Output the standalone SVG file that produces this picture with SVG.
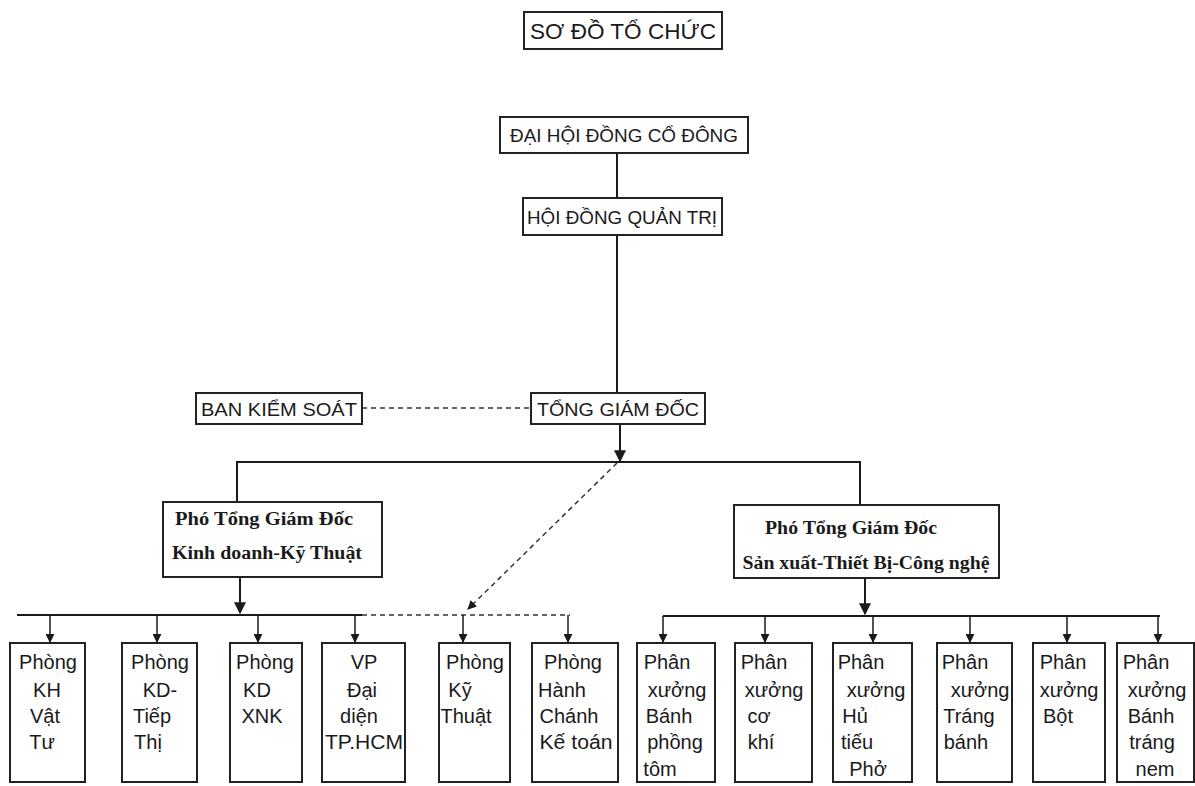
<svg xmlns="http://www.w3.org/2000/svg" width="1195" height="786" viewBox="0 0 1195 786">
<style>
.bx{fill:#fff;stroke:#222;stroke-width:2}
.t{font-family:"Liberation Sans",Arial,sans-serif;fill:#1a1a1a;text-anchor:middle}
.top{font-size:19px}
.s{font-family:"Liberation Serif","Times New Roman",serif;font-weight:bold;font-size:18.5px;fill:#1a1a1a;text-anchor:middle}
.b{font-size:20px}
.ln{stroke:#1a1a1a;stroke-width:2;fill:none}
.dl{stroke:#333;stroke-width:1.5;fill:none;stroke-dasharray:5 4}
</style>
<defs>
<marker id="ar" viewBox="0 0 10 10" refX="9" refY="5" markerWidth="6" markerHeight="6" orient="auto">
<path d="M0,0 L10,5 L0,10 z" fill="#1a1a1a"/>
</marker>
</defs>
<rect width="1195" height="786" fill="#fff"/>
<g id="title">
<rect class="bx" x="524" y="12" width="198" height="37" stroke-width="1.5"/>
<text class="t" x="623" y="39" font-size="22" textLength="186" lengthAdjust="spacingAndGlyphs">SƠ ĐỒ TỔ CHỨC</text>
</g>
<g id="connectors">
<line class="ln" x1="617" y1="153" x2="617" y2="198"/>
<line class="ln" x1="617" y1="235" x2="617" y2="393"/>
<line class="dl" x1="362" y1="408" x2="530" y2="408"/>
<line class="ln" x1="620" y1="423" x2="620" y2="461" marker-end="url(#ar)"/>
<line class="ln" x1="236" y1="462" x2="861" y2="462"/>
<line class="ln" x1="237" y1="462" x2="237" y2="502"/>
<line class="ln" x1="860" y1="462" x2="860" y2="505"/>
<line class="dl" x1="617" y1="463" x2="468" y2="609" marker-end="url(#ar)"/>
<line class="ln" x1="240" y1="577" x2="240" y2="613" marker-end="url(#ar)"/>
<line class="ln" x1="865" y1="578" x2="865" y2="614" marker-end="url(#ar)"/>
<line class="ln" x1="17" y1="615" x2="362" y2="615" stroke-width="1.5"/>
<line class="dl" x1="362" y1="615" x2="570" y2="615"/>
<line class="ln" x1="663" y1="616" x2="1160" y2="616" stroke-width="1.5"/>
<g stroke="#1a1a1a" stroke-width="1.5" marker-end="url(#ar)">
<line x1="50" y1="615" x2="50" y2="642"/>
<line x1="157" y1="615" x2="157" y2="642"/>
<line x1="258" y1="615" x2="258" y2="642"/>
<line x1="355" y1="615" x2="355" y2="642"/>
<line x1="463" y1="615" x2="463" y2="642"/>
<line x1="568" y1="615" x2="568" y2="642"/>
<line x1="663" y1="616" x2="663" y2="642"/>
<line x1="765" y1="616" x2="765" y2="642"/>
<line x1="873" y1="616" x2="873" y2="642"/>
<line x1="970" y1="616" x2="970" y2="642"/>
<line x1="1067" y1="616" x2="1067" y2="642"/>
<line x1="1158" y1="616" x2="1158" y2="642"/>
</g>
</g>
<g id="dhcd">
<rect class="bx" x="500" y="117" width="248" height="36" stroke-width="1.5"/>
<text class="t top" x="624" y="142" textLength="228" lengthAdjust="spacingAndGlyphs">ĐẠI HỘI ĐỒNG CỔ ĐÔNG</text>
</g>
<g id="hdqt">
<rect class="bx" x="523" y="198" width="199" height="37" stroke-width="1.5"/>
<text class="t top" x="622" y="224" textLength="190" lengthAdjust="spacingAndGlyphs">HỘI ĐỒNG QUẢN TRỊ</text>
</g>
<g id="bks">
<rect class="bx" x="196" y="393" width="166" height="31" stroke-width="1.5"/>
<text class="t top" x="279" y="416" textLength="156" lengthAdjust="spacingAndGlyphs">BAN KIỂM SOÁT</text>
</g>
<g id="tgd">
<rect class="bx" x="531" y="393" width="174" height="31" stroke-width="1.5"/>
<text class="t top" x="618" y="416" textLength="162" lengthAdjust="spacingAndGlyphs">TỔNG GIÁM ĐỐC</text>
</g>
<g id="ptgd-kd">
<rect class="bx" x="163" y="502" width="219" height="75"/>
<text class="s" x="264" y="525" textLength="178" lengthAdjust="spacingAndGlyphs">Phó Tổng Giám Đốc</text>
<text class="s" x="267" y="559" textLength="190" lengthAdjust="spacingAndGlyphs">Kinh doanh-Kỹ Thuật</text>
</g>
<g id="ptgd-sx">
<rect class="bx" x="734" y="505" width="265" height="73"/>
<text class="s" x="851" y="534" textLength="172" lengthAdjust="spacingAndGlyphs">Phó Tổng Giám Đốc</text>
<text class="s" x="866" y="569" textLength="247" lengthAdjust="spacingAndGlyphs">Sản xuất-Thiết Bị-Công nghệ</text>
</g>
<g id="p1"><rect class="bx" x="10" y="643" width="75" height="139"/>
<text class="t b" x="48" y="669">Phòng</text><text class="t b" x="47" y="697">KH</text><text class="t b" x="45" y="723">Vật</text><text class="t b" x="42" y="749">Tư</text></g>
<g id="p2"><rect class="bx" x="122" y="643" width="75" height="139"/>
<text class="t b" x="160" y="669">Phòng</text><text class="t b" x="160" y="697">KD-</text><text class="t b" x="152" y="723">Tiếp</text><text class="t b" x="148" y="749">Thị</text></g>
<g id="p3"><rect class="bx" x="230" y="643" width="72" height="139"/>
<text class="t b" x="265" y="669">Phòng</text><text class="t b" x="257" y="697">KD</text><text class="t b" x="262" y="723">XNK</text></g>
<g id="p4"><rect class="bx" x="322" y="643" width="83" height="139"/>
<text class="t b" x="364" y="669">VP</text><text class="t b" x="362" y="697">Đại</text><text class="t b" x="359" y="723">diện</text><text class="t b" x="364" y="749" textLength="78" lengthAdjust="spacingAndGlyphs">TP.HCM</text></g>
<g id="p5"><rect class="bx" x="439" y="643" width="71" height="139"/>
<text class="t b" x="475" y="669">Phòng</text><text class="t b" x="460" y="697">Kỹ</text><text class="t b" x="466" y="723">Thuật</text></g>
<g id="p6"><rect class="bx" x="532" y="643" width="86" height="139"/>
<text class="t b" x="573" y="669">Phòng</text><text class="t b" x="562" y="697">Hành</text><text class="t b" x="569" y="723">Chánh</text><text class="t b" x="576" y="749" textLength="73" lengthAdjust="spacingAndGlyphs">Kế toán</text></g>
<g id="px1"><rect class="bx" x="637" y="643" width="78" height="139"/>
<text class="t b" x="667" y="669">Phân</text><text class="t b" x="677" y="697">xưởng</text><text class="t b" x="669" y="723">Bánh</text><text class="t b" x="675" y="749">phồng</text><text class="t b" x="660" y="776">tôm</text></g>
<g id="px2"><rect class="bx" x="735" y="643" width="77" height="139"/>
<text class="t b" x="764" y="669">Phân</text><text class="t b" x="774" y="697">xưởng</text><text class="t b" x="759" y="723">cơ</text><text class="t b" x="761" y="749">khí</text></g>
<g id="px3"><rect class="bx" x="833" y="643" width="79" height="139"/>
<text class="t b" x="861" y="669">Phân</text><text class="t b" x="876" y="697">xưởng</text><text class="t b" x="855" y="723">Hủ</text><text class="t b" x="857" y="749">tiếu</text><text class="t b" x="868" y="776">Phở</text></g>
<g id="px4"><rect class="bx" x="937" y="643" width="75" height="139"/>
<text class="t b" x="965" y="669">Phân</text><text class="t b" x="980" y="697">xưởng</text><text class="t b" x="969" y="723">Tráng</text><text class="t b" x="966" y="749">bánh</text></g>
<g id="px5"><rect class="bx" x="1033" y="643" width="72" height="139"/>
<text class="t b" x="1063" y="669">Phân</text><text class="t b" x="1069" y="697">xưởng</text><text class="t b" x="1058" y="723">Bột</text></g>
<g id="px6"><rect class="bx" x="1117" y="643" width="77" height="139"/>
<text class="t b" x="1146" y="669">Phân</text><text class="t b" x="1157" y="697">xưởng</text><text class="t b" x="1151" y="723">Bánh</text><text class="t b" x="1152" y="749">tráng</text><text class="t b" x="1155" y="776">nem</text></g>
</svg>
